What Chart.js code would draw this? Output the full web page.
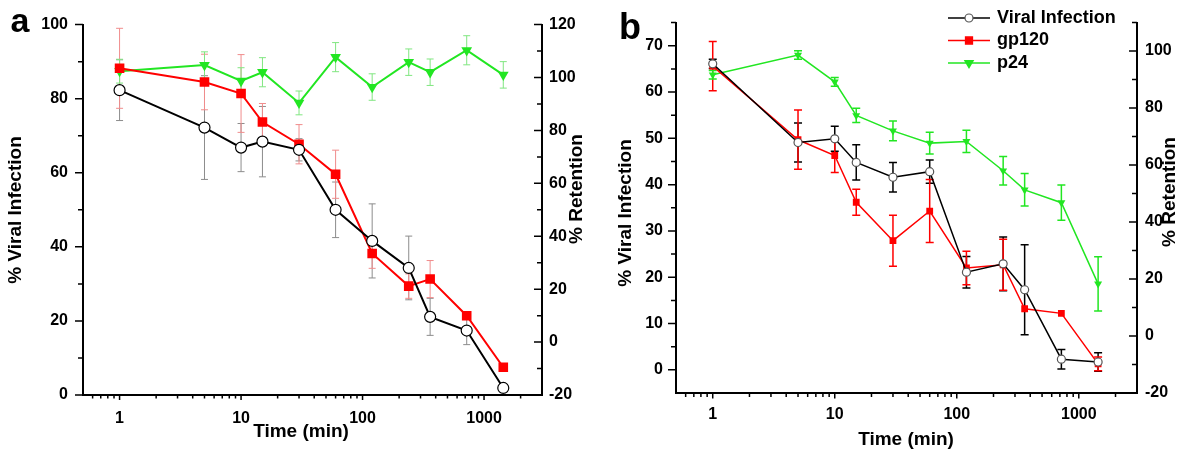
<!DOCTYPE html>
<html>
<head>
<meta charset="utf-8">
<script src="https://cdn.jsdelivr.net/npm/chart.js"></script>
<style>
    html, body { margin: 0; padding: 0; background: #fff; }
    #wrap { display: flex; width: 1200px; height: 460px; }
    canvas { display: block; }
</style>
</head>
<body>
<div id="wrap">
    <canvas id="chartA" width="600" height="460"></canvas>
    <canvas id="chartB" width="600" height="460"></canvas>
</div>
<script>
// Sampling times (min), shared by both panels
const times = [1, 5, 10, 15, 30, 60, 120, 240, 360, 720, 1440];

// Panel a
const aViral = [82.3, 72.2, 66.8, 68.4, 66.2, 50.0, 41.6, 34.3, 21.1, 17.4, 1.9];
const aViralErr = [8.2, 14, 6.5, 9.5, 3, 7.5, 10, 8.6, 5, 3.8, 0.5];
const aGp120 = [88.2, 84.5, 81.4, 73.7, 67.7, 59.6, 38.2, 29.4, 31.3, 21.4, 7.5];
const aGp120Err = [10.8, 7.5, 10.5, 5, 5.3, 6.5, 4, 3.3, 5, 1, 1];
const aP24 = [102.4, 104.7, 98.7, 102, 90.4, 107.7, 96.4, 105.8, 102, 110.3, 101];
const aP24Err = [4.5, 5, 5, 5.5, 4.5, 5.5, 5, 5, 5, 5.5, 5];

// Panel b
const bViral = [66.1, 49.1, 49.9, 44.8, 41.6, 42.8, 21.1, 22.9, 17.3, 2.3, 1.7];
const bViralErr = [1, 4.2, 2.7, 3.8, 3.2, 2.5, 3.4, 5.8, 9.7, 2.1, 2];
const bGp120 = [65.6, 49.7, 46.3, 36.2, 27.9, 34.3, 22.0, 22.7, 13.2, 12.2, 1.3];
const bGp120Err = [5.3, 6.4, 3.7, 2.8, 5.5, 6.8, 3.6, 5.5, 0, 0, 1.5];
const bP24 = [91.7, 98.6, 89.2, 77.4, 72.0, 67.7, 68.3, 58.0, 51.3, 46.8, 18.3];
const bP24Err = [1.5, 1.5, 1.5, 2.5, 3.5, 3.8, 3.9, 5, 5.7, 6.2, 9.5];

// Tick values
const xMajor = [1, 10, 100, 1000];
const xMinor = [0.6, 0.7, 0.8, 0.9, 2, 3, 4, 5, 6, 7, 8, 9, 20, 30, 40, 50, 60, 70, 80, 90,
    200, 300, 400, 500, 600, 700, 800, 900, 2000];
const aLeftMajor = [0, 20, 40, 60, 80, 100];
const aLeftMinor = [10, 30, 50, 70, 90];
const aRightMajor = [-20, 0, 20, 40, 60, 80, 100, 120];
const aRightMinor = [-10, 10, 30, 50, 70, 90, 110];
const bLeftMajor = [0, 10, 20, 30, 40, 50, 60, 70];
const bLeftMinor = [5, 15, 25, 35, 45, 55, 65, 75];
const bRightMajor = [-20, 0, 20, 40, 60, 80, 100];
const bRightMinor = [-10, 10, 30, 50, 70, 90, 110];

const seriesNames = ['Viral Infection', 'gp120', 'p24'];

const FONT = "'Liberation Sans', Arial, sans-serif";
const RED = '#f00';
const GREEN = '#22e622';

Chart.defaults.font.family = FONT;
Chart.defaults.font.weight = 'bold';
Chart.defaults.font.size = 16;
Chart.defaults.color = '#000';

function pts(vals) {
    return times.map((t, i) => ({ x: t, y: vals[i] }));
}

/**
 * Vertical error bars with caps, drawn under the markers
 */
const errorBars = {
    id: 'errorBars',
    beforeDatasetsDraw(chart) {
        const ctx = chart.ctx;
        chart.data.datasets.forEach((ds, i) => {
            if (!ds.errors) return;
            const meta = chart.getDatasetMeta(i);
            const yScale = chart.scales[ds.yAxisID];
            ctx.save();
            ctx.strokeStyle = ds.errorColor;
            ctx.lineWidth = ds.errorWidth;
            meta.data.forEach((pt, j) => {
                const e = ds.errors[j];
                if (!e) return;
                const v = ds.data[j].y;
                const top = yScale.getPixelForValue(v + e);
                const bot = yScale.getPixelForValue(v - e);
                const half = ds.capWidth / 2;
                ctx.beginPath();
                ctx.moveTo(pt.x, top);
                ctx.lineTo(pt.x, bot);
                ctx.moveTo(pt.x - half, top);
                ctx.lineTo(pt.x + half, top);
                ctx.moveTo(pt.x - half, bot);
                ctx.lineTo(pt.x + half, bot);
                ctx.stroke();
            });
            ctx.restore();
        });
    }
};

/**
 * Tick marks (major and minor) drawn through the scales
 */
const axisTicks = {
    id: 'axisTicks',
    afterDraw(chart, args, opts) {
        const ctx = chart.ctx;
        const area = chart.chartArea;
        ctx.save();
        ctx.strokeStyle = '#000';
        ctx.lineWidth = 1.5;
        (opts.sets || []).forEach(set => {
            const scale = chart.scales[set.scale];
            ctx.beginPath();
            set.values.forEach(v => {
                const p = scale.getPixelForValue(v);
                if (scale.isHorizontal()) {
                    ctx.moveTo(p, area.bottom);
                    ctx.lineTo(p, area.bottom + set.len);
                } else {
                    const x0 = set.side === 'left' ? area.left : area.right;
                    ctx.moveTo(x0, p);
                    ctx.lineTo(x0 + set.dir * set.len, p);
                }
            });
            ctx.stroke();
        });
        ctx.restore();
    }
};

/**
 * Free texts: panel letter and axis titles
 */
const panelText = {
    id: 'panelText',
    afterDraw(chart, args, opts) {
        const ctx = chart.ctx;
        (opts.items || []).forEach(it => {
            ctx.save();
            ctx.fillStyle = '#000';
            ctx.font = it.font;
            ctx.textAlign = 'center';
            ctx.textBaseline = it.baseline || 'middle';
            ctx.translate(it.x, it.y);
            if (it.rot) ctx.rotate(it.rot);
            ctx.fillText(it.text, 0, 0);
            ctx.restore();
        });
    }
};

/**
 * Line-marker-line legend like the original plotting software
 */
const lineLegend = {
    id: 'lineLegend',
    afterDraw(chart, args, opts) {
        if (!opts.show) return;
        const ctx = chart.ctx;
        chart.data.datasets.forEach((ds, i) => {
            const y = opts.y + i * opts.gap;
            ctx.save();
            ctx.strokeStyle = ds.borderColor;
            ctx.lineWidth = ds.borderWidth;
            ctx.beginPath();
            ctx.moveTo(opts.x0, y);
            ctx.lineTo(opts.x1, y);
            ctx.stroke();
            const cx = (opts.x0 + opts.x1) / 2;
            const r = ds.pointRadius;
            ctx.fillStyle = ds.pointBackgroundColor;
            ctx.lineWidth = ds.pointBorderWidth;
            ctx.strokeStyle = ds.pointBorderColor;
            ctx.beginPath();
            if (ds.pointStyle === 'circle') {
                ctx.arc(cx, y, r, 0, Math.PI * 2);
            } else if (ds.pointStyle === 'rect') {
                const s = r * Math.SQRT1_2;
                ctx.rect(cx - s, y - s, 2 * s, 2 * s);
            } else {
                const h = r * 0.866;
                ctx.moveTo(cx - h, y - r / 2);
                ctx.lineTo(cx + h, y - r / 2);
                ctx.lineTo(cx, y + r);
                ctx.closePath();
            }
            ctx.fill();
            ctx.stroke();
            ctx.fillStyle = '#000';
            ctx.font = opts.font;
            ctx.textAlign = 'left';
            ctx.textBaseline = 'middle';
            ctx.fillText(ds.label, opts.x1 + 7, y);
            ctx.restore();
        });
    }
};

function buildDatasets(p) {
    return [
        {
            label: seriesNames[0],
            data: pts(p.viral),
            errors: p.viralErr,
            yAxisID: 'y',
            borderColor: '#000',
            borderWidth: p.lw,
            pointStyle: 'circle',
            pointRadius: p.circleR,
            pointBackgroundColor: '#fff',
            pointBorderColor: p.circleEdge,
            pointBorderWidth: 1.2,
            errorColor: p.errColors[0],
            errorWidth: p.errWidth,
            capWidth: p.cap
        },
        {
            label: seriesNames[1],
            data: pts(p.gp120),
            errors: p.gp120Err,
            yAxisID: 'y',
            borderColor: RED,
            borderWidth: p.lw,
            pointStyle: 'rect',
            pointRadius: p.rectR,
            pointBackgroundColor: RED,
            pointBorderColor: RED,
            pointBorderWidth: 0,
            errorColor: p.errColors[1],
            errorWidth: p.errWidth,
            capWidth: p.cap
        },
        {
            label: seriesNames[2],
            data: pts(p.p24),
            errors: p.p24Err,
            yAxisID: 'y2',
            borderColor: GREEN,
            borderWidth: p.lw,
            pointStyle: 'triangle',
            pointRotation: 180,
            pointRadius: p.triR,
            pointBackgroundColor: GREEN,
            pointBorderColor: GREEN,
            pointBorderWidth: 0,
            errorColor: p.errColors[2],
            errorWidth: p.errWidth,
            capWidth: p.cap
        }
    ];
}

function makeChart(id, p) {
    const border = { display: true, color: '#000', width: 2 };
    const noGrid = { display: false, drawTicks: false };
    return new Chart(document.getElementById(id), {
        type: 'line',
        data: { datasets: buildDatasets(p) },
        options: {
            responsive: false,
            animation: false,
            layout: { padding: { top: p.top, left: 0, right: 0, bottom: 0 } },
            elements: { line: { tension: 0 } },
            scales: {
                x: {
                    type: 'logarithmic',
                    min: 0.5,
                    max: 3000,
                    border: border,
                    grid: noGrid,
                    ticks: { padding: p.xPad, maxRotation: 0, autoSkip: false, callback: v => String(v) },
                    afterBuildTicks: s => { s.ticks = xMajor.map(v => ({ value: v })); },
                    afterFit: s => { s.height = p.xHeight; }
                },
                y: {
                    position: 'left',
                    min: p.yMin,
                    max: p.yMax,
                    border: border,
                    grid: noGrid,
                    ticks: { padding: p.yPad, callback: v => String(v) },
                    afterBuildTicks: s => { s.ticks = p.leftMajor.map(v => ({ value: v })); },
                    afterFit: s => { s.width = p.leftW; }
                },
                y2: {
                    position: 'right',
                    min: p.y2Min,
                    max: p.y2Max,
                    border: border,
                    grid: noGrid,
                    ticks: { padding: p.y2Pad, callback: v => String(v) },
                    afterBuildTicks: s => { s.ticks = p.rightMajor.map(v => ({ value: v })); },
                    afterFit: s => { s.width = p.rightW; }
                }
            },
            plugins: {
                legend: { display: false },
                tooltip: { enabled: false },
                axisTicks: {
                    sets: [
                        { scale: 'x', values: xMajor, len: p.xTick[0] },
                        { scale: 'x', values: xMinor, len: p.xTick[1] },
                        { scale: 'y', values: p.leftMajor, side: 'left', dir: -1, len: 8 },
                        { scale: 'y', values: p.leftMinor, side: 'left', dir: -1, len: 5 },
                        { scale: 'y2', values: p.rightMajor, side: 'right', dir: -1, len: 8 },
                        { scale: 'y2', values: p.rightMinor, side: 'right', dir: -1, len: 5 }
                    ]
                },
                panelText: { items: p.texts },
                lineLegend: p.legend
            }
        },
        plugins: [errorBars, axisTicks, panelText, lineLegend]
    });
}

const titleFont = 'bold 19px ' + FONT;

makeChart('chartA', {
    viral: aViral, viralErr: aViralErr,
    gp120: aGp120, gp120Err: aGp120Err,
    p24: aP24, p24Err: aP24Err,
    lw: 2, circleR: 5.5, rectR: 6.8, triR: 6.2, circleEdge: '#000',
    errColors: ['#8c8c8c', '#f08c8c', '#80e680'], errWidth: 1, cap: 7,
    top: 21, leftW: 83, rightW: 58, xHeight: 65,
    xPad: 14, yPad: 15, y2Pad: 7,
    yMin: 0, yMax: 100, y2Min: -20, y2Max: 120,
    leftMajor: aLeftMajor, leftMinor: aLeftMinor,
    rightMajor: aRightMajor, rightMinor: aRightMinor,
    xTick: [5, 3.5],
    texts: [
        { text: 'a', x: 20, y: 32, font: 'bold 34px ' + FONT, baseline: 'alphabetic' },
        { text: '% Viral Infection', x: 16, y: 210, rot: -Math.PI / 2, font: titleFont },
        { text: '% Retention', x: 577, y: 189, rot: -Math.PI / 2, font: titleFont },
        { text: 'Time (min)', x: 301, y: 432, font: titleFont }
    ],
    legend: { show: false }
});

makeChart('chartB', {
    viral: bViral, viralErr: bViralErr,
    gp120: bGp120, gp120Err: bGp120Err,
    p24: bP24, p24Err: bP24Err,
    lw: 1.5, circleR: 4, rectR: 4.8, triR: 4.6, circleEdge: '#555',
    errColors: ['#000', RED, GREEN], errWidth: 1.5, cap: 8,
    top: 18, leftW: 76, rightW: 63, xHeight: 67,
    xPad: 12, yPad: 13, y2Pad: 8,
    yMin: -5, yMax: 75, y2Min: -20, y2Max: 110,
    leftMajor: bLeftMajor, leftMinor: bLeftMinor,
    rightMajor: bRightMajor, rightMinor: bRightMinor,
    xTick: [5.5, 4],
    texts: [
        { text: 'b', x: 30, y: 39, font: 'bold 36px ' + FONT, baseline: 'alphabetic' },
        { text: '% Viral Infection', x: 25.5, y: 213, rot: -Math.PI / 2, font: titleFont },
        { text: '% Retention', x: 570, y: 192, rot: -Math.PI / 2, font: titleFont },
        { text: 'Time (min)', x: 306, y: 440, font: titleFont }
    ],
    legend: { show: true, x0: 348, x1: 390, y: 18, gap: 22.5, font: 'bold 18px ' + FONT }
});
</script>
</body>
</html>
